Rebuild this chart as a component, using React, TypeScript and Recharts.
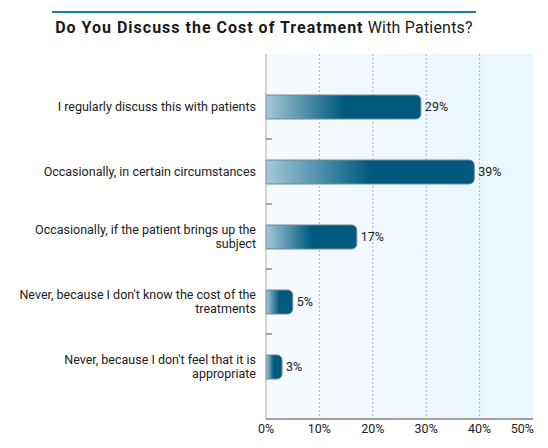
import React from 'react';
import { BarChart, Bar, XAxis, YAxis, CartesianGrid, LabelList } from 'recharts';

// answers, top to bottom
const categories = [
  'I regularly discuss this with patients',
  'Occasionally, in certain circumstances',
  'Occasionally, if the patient brings up the subject',
  "Never, because I don't know the cost of the treatments",
  "Never, because I don't feel that it is appropriate",
];
const values = [29, 39, 17, 5, 3];
const xTicks = [0, 10, 20, 30, 40, 50];
const gridValues = [10, 20, 30, 40];

const data = categories.map((answer, i) => ({ answer, value: values[i] }));

const FONT = 'Roboto, "Open Sans", sans-serif';
const FONT_SIZE = 12.5;
const labelStyle = { fontSize: FONT_SIZE, fontFamily: FONT };

let ctx: CanvasRenderingContext2D | null = null;
function measure(s: string) {
  if (!ctx) {
    ctx = document.createElement('canvas').getContext('2d');
  }
  if (!ctx) return s.length * 6;
  ctx.font = `${FONT_SIZE}px Roboto`;
  return ctx.measureText(s).width;
}

function wrap(text: string, maxWidth: number) {
  const words = text.split(' ');
  const lines: string[] = [];
  let cur = '';
  words.forEach((w) => {
    const next = cur ? `${cur} ${w}` : w;
    if (cur && measure(next) > maxWidth) {
      lines.push(cur);
      cur = w;
    } else {
      cur = next;
    }
  });
  if (cur) lines.push(cur);
  return lines;
}

function AnswerTick(props: any) {
  const { x, y, payload, index } = props;
  const half = payload.offset || 32.5;
  const lines = wrap(payload.value, 250);
  const lh = 14;
  const startY = y - ((lines.length - 1) * lh) / 2;
  return (
    <g>
      <text textAnchor="end" style={labelStyle} fill="#222">
        {lines.map((line, i) => (
          <tspan key={i} x={x} y={startY + i * lh} dy="0.355em">
            {line}
          </tspan>
        ))}
      </text>
      {index < categories.length - 1 && (
        <line x1={x + 10} x2={x + 16} y1={y + half} y2={y + half} stroke="#555" />
      )}
    </g>
  );
}

function PercentTick(props: any) {
  const { x, y, payload } = props;
  const last = payload.value === xTicks[xTicks.length - 1];
  return (
    <text
      x={last ? x + 1 : x}
      y={y}
      dy="0.71em"
      textAnchor={last ? 'end' : 'middle'}
      style={labelStyle}
      fill="#222"
    >
      {payload.value}%
    </text>
  );
}

export default function App() {
  return (
    <div style={{ position: 'absolute', left: 0, top: 0, width: 548, height: 448, background: '#fff' }}>
      <div
        style={{
          position: 'absolute',
          left: 52,
          top: 11,
          width: 424,
          borderTop: '2px solid #1a82ad',
          textAlign: 'center',
          fontFamily: FONT,
          fontSize: 16,
          lineHeight: '20px',
          paddingTop: 5,
          color: '#1a1a1a',
          whiteSpace: 'nowrap',
        }}
      >
        <span style={{ fontWeight: 700, letterSpacing: 1 }}>Do You Discuss the Cost of Treatment</span>
        <span style={{ letterSpacing: 0.2 }}> With Patients?</span>
      </div>
      <BarChart
        width={548}
        height={448}
        data={data}
        layout="vertical"
        margin={{ top: 54, right: 15, bottom: 0, left: 0 }}
      >
        <defs>
          <linearGradient id="plotBg" x1="0" y1="0" x2="1" y2="0">
            <stop offset="0" stopColor="#f6fafd" />
            <stop offset="1" stopColor="#e9f6fd" />
          </linearGradient>
          <linearGradient id="barGrad" x1="0" y1="0" x2="1" y2="0">
            <stop offset="0" stopColor="#a3c8d7" />
            <stop offset="0.5" stopColor="#005a7e" />
            <stop offset="1" stopColor="#005a7e" />
          </linearGradient>
        </defs>
        <CartesianGrid
          horizontal={false}
          verticalValues={gridValues}
          stroke="#b5b5b5"
          strokeDasharray="2 2"
          fill="url(#plotBg)"
          fillOpacity={1}
        />
        <XAxis
          type="number"
          domain={[0, 50]}
          ticks={xTicks}
          height={29}
          tickLine={false}
          tickSize={0}
          tickMargin={5}
          axisLine={{ stroke: '#a0a0a0', strokeWidth: 2 }}
          tick={<PercentTick />}
        />
        <YAxis
          type="category"
          dataKey="answer"
          width={266}
          interval={0}
          padding={{ top: 20, bottom: 20 }}
          tickLine={false}
          tickSize={0}
          tickMargin={10}
          axisLine={{ stroke: '#aaaaaa' }}
          tick={<AnswerTick />}
        />
        <Bar
          dataKey="value"
          barSize={24}
          fill="url(#barGrad)"
          stroke="#6f8a95"
          strokeWidth={1}
          radius={[0, 5, 5, 0]}
          isAnimationActive={false}
        >
          <LabelList
            dataKey="value"
            position="right"
            offset={4}
            formatter={(v: any) => `${v}%`}
            fill="#222"
            style={labelStyle}
          />
        </Bar>
      </BarChart>
    </div>
  );
}
